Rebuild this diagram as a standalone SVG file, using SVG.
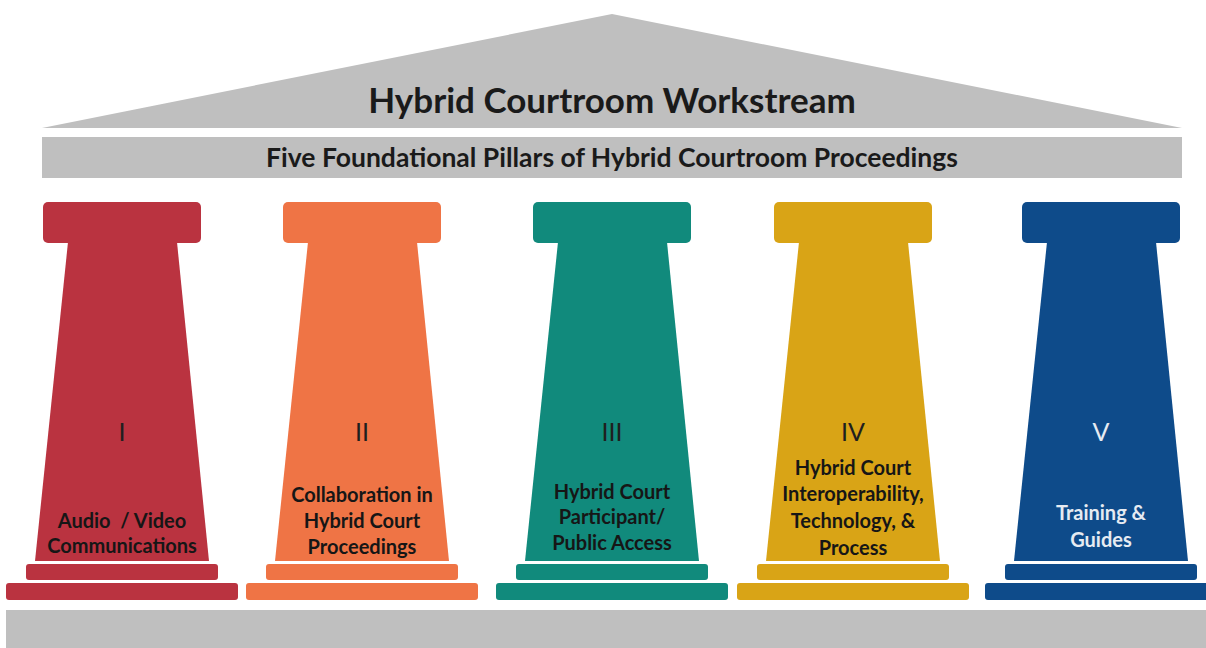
<svg xmlns="http://www.w3.org/2000/svg" width="1206" height="648" viewBox="0 0 1206 648">
<style>
.gray{fill:#bfbfbf}
.t1{font-family:Lato,"Open Sans",sans-serif;font-weight:bold;fill:#1a1a1a;text-anchor:middle}
.num{font-family:Lato,"Open Sans",sans-serif;font-size:25px;fill:#1f1f1f;text-anchor:middle}
.lab{font-family:Lato,"Open Sans",sans-serif;font-weight:bold;font-size:20px;fill:#161616;text-anchor:middle}
.light{fill:#e6ebf2}
.p1{fill:#ba3340}.p2{fill:#ef7445}.p3{fill:#118a7c}.p4{fill:#d9a416}.p5{fill:#0e4b8a}
</style>
<defs>
<g id="pillar">
<rect x="-79" y="202" width="158" height="41" rx="5"/>
<polygon points="-54,242 55,242 87,561 -87,561"/>
<rect x="-96" y="564" width="192" height="16" rx="3"/>
<rect x="-116" y="583" width="232" height="17" rx="3"/>
</g>
</defs>
<rect width="1206" height="648" fill="#ffffff"/>
<g id="roof">
<polygon class="gray" points="612,14 1182,128 42,128"/>
<text class="t1" x="612" y="113" font-size="35">Hybrid Courtroom Workstream</text>
</g>
<g id="band">
<rect class="gray" x="42" y="137" width="1140" height="41"/>
<text class="t1" x="612" y="167" font-size="26.5">Five Foundational Pillars of Hybrid Courtroom Proceedings</text>
</g>
<g id="base">
<rect class="gray" x="6" y="610" width="1200" height="38"/>
</g>
<g id="pillar1">
<use href="#pillar" class="p1" transform="translate(122,0)"/>
<text class="num" x="122" y="441">I</text>
<text class="lab" x="122" y="528" style="white-space:pre">Audio  / Video</text>
<text class="lab" x="122" y="553">Communications</text>
</g>
<g id="pillar2">
<use href="#pillar" class="p2" transform="translate(362,0)"/>
<text class="num" x="362" y="441">II</text>
<text class="lab" x="362" y="502">Collaboration in</text>
<text class="lab" x="362" y="528">Hybrid Court</text>
<text class="lab" x="362" y="554">Proceedings</text>
</g>
<g id="pillar3">
<use href="#pillar" class="p3" transform="translate(612,0)"/>
<text class="num" x="612" y="441">III</text>
<text class="lab" x="612" y="499">Hybrid Court</text>
<text class="lab" x="612" y="524">Participant/</text>
<text class="lab" x="612" y="550">Public Access</text>
</g>
<g id="pillar4">
<use href="#pillar" class="p4" transform="translate(853,0)"/>
<text class="num" x="853" y="441">IV</text>
<text class="lab" x="853" y="475">Hybrid Court</text>
<text class="lab" x="853" y="501">Interoperability,</text>
<text class="lab" x="853" y="528">Technology, &amp;</text>
<text class="lab" x="853" y="555">Process</text>
</g>
<g id="pillar5">
<use href="#pillar" class="p5" transform="translate(1101,0)"/>
<text class="num light" x="1101" y="441">V</text>
<text class="lab light" x="1101" y="520">Training &amp;</text>
<text class="lab light" x="1101" y="547">Guides</text>
</g>
</svg>
